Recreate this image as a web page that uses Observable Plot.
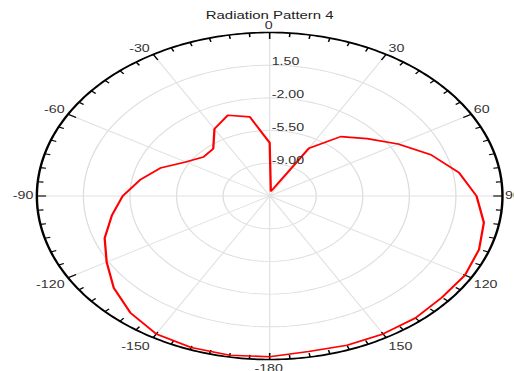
<!DOCTYPE html>
<html><head><meta charset="utf-8">
<script src="https://cdn.jsdelivr.net/npm/d3@7"></script>
<script src="https://cdn.jsdelivr.net/npm/@observablehq/plot@0.6"></script>
<style>
html,body{margin:0;padding:0;background:#fff;overflow:hidden}
#chart svg{display:block;transform-origin:0 0;}
</style></head><body><div id="chart"></div>
<script>
const title = "Radiation Pattern 4";
const angles = [-180,-170,-160,-150,-140,-130,-120,-110,-100,-90,-80,-70,-60,-50,-40,-30,-20,-10,0,10,20,30,40,50,60,70,80,90,100,110,120,130,140,150,160,170,180];
const gains = [4.7,4.8,4.75,4.55,3.8,2.8,1.65,0.7,-0.45,-1.45,-2.6,-3.75,-5.2,-6.0,-5.9,-4.2,-3.3,-3.9,-6.8,-12.0,-11.6,-6.6,-4.2,-2.95,-1.35,0.4,1.95,3.05,3.85,4.25,4.45,4.4,4.55,4.55,4.5,4.4,4.7];
const ringValues = [-9, -5.5, -2, 1.5];
const ringLabels = ["-9.00", "-5.50", "-2.00", "1.50"];
const angleTicks = [-150,-120,-90,-60,-30,0,30,60,90,120,150,180];
const angleTickLabels = ["-150","-120","-90","-60","-30","0","30","60","90","120","150","-180"];
const rMin = -12.5, rMax = 5;

const S = 514 / 361;            // horizontal stretch of the picture
const R = rMax - rMin;          // outer radius in data units
const K = 163.5 / R;            // px per data unit (unscaled)
const rad = d => d * Math.PI / 180;
const px = (deg, r) => r * Math.sin(rad(deg));
const py = (deg, r) => r * Math.cos(rad(deg));

const curve = angles.map((a, i) => ({x: px(a, gains[i] - rMin), y: py(a, gains[i] - rMin)}));

const rings = [];
ringValues.forEach((v) => { for (let a = 0; a <= 360; a += 2) rings.push({ring: v, x: px(a, v - rMin), y: py(a, v - rMin)}); });
const outer = d3.range(0, 361, 1).map(a => ({x: px(a, R), y: py(a, R)}));
const spokes = d3.range(0, 360, 30).map(a => ({x1: 0, y1: 0, x2: px(a, R), y2: py(a, R)}));

const ticks = d3.range(-180, 180, 5).map(a => {
  const len = (a % 30 === 0 ? 6.5 : 4) / K;
  return {x1: px(a, R), y1: py(a, R), x2: px(a, R - len), y2: py(a, R - len)};
});

const labels = angleTicks.map((a, i) => {
  const c = Math.cos(rad(a));
  const dyF = c > 0.01 ? -6.5 * Math.pow(c, 0.7) : (c < -0.01 ? 9.5 * Math.sqrt(-c) : 0);
  const side = (a === 0 || a === 180) ? "middle" : (a > 0 ? "start" : "end");
  const dxF = side === "start" ? 2.5 : side === "end" ? -3.5 : -1;
  return {side, text: angleTickLabels[i], x: px(a, R) + dxF / (K * S), y: py(a, R) - dyF / K};
});

const radialLabels = ringValues.map((v, i) => ({x: 0, y: v - rMin, text: ringLabels[i]}));

const chart = Plot.plot({
  width: 361, height: 371,
  margin: 0,
  x: {domain: [-R, R], range: [188.9 - 163.5, 188.9 + 163.5], axis: null},
  y: {domain: [-R, R], range: [195.5 + 163.5, 195.5 - 163.5], axis: null},
  style: {fontFamily: "'Liberation Sans', Arial, sans-serif", fontSize: "10px", color: "#333", background: "white", overflow: "visible"},
  marks: [
    Plot.line(rings, {x: "x", y: "y", z: "ring", stroke: "#dddddd", strokeWidth: 0.9}),
    Plot.link(spokes, {x1: "x1", y1: "y1", x2: "x2", y2: "y2", stroke: "#e2e2e2", strokeWidth: 0.9}),
    Plot.line(outer, {x: "x", y: "y", stroke: "black", strokeWidth: 1.7}),
    Plot.link(ticks, {x1: "x1", y1: "y1", x2: "x2", y2: "y2", stroke: "black", strokeWidth: 1.1}),
    Plot.line(curve, {x: "x", y: "y", stroke: "#ff0000", strokeWidth: 1.6, strokeLinejoin: "miter"}),
    Plot.text(radialLabels, {x: "x", y: "y", text: "text", textAnchor: "start", dx: 1.4, dy: -3, fill: "#333"}),
    Plot.text(labels.filter(d => d.side === "start"), {x: "x", y: "y", text: "text", textAnchor: "start", fill: "#333"}),
    Plot.text(labels.filter(d => d.side === "end"), {x: "x", y: "y", text: "text", textAnchor: "end", fill: "#333"}),
    Plot.text(labels.filter(d => d.side === "middle"), {x: "x", y: "y", text: "text", textAnchor: "middle", fill: "#333"}),
    Plot.text([title], {x: () => 0, text: d => d, frameAnchor: "top", dy: 11, fill: "#222", fontSize: 10.5})
  ]
});
chart.style.transform = `scaleX(${S})`;
document.getElementById("chart").appendChild(chart);
</script></body></html>
